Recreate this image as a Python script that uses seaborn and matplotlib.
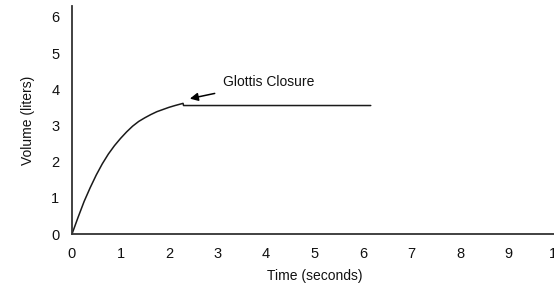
import matplotlib
matplotlib.use("Agg")
import matplotlib.pyplot as plt
import seaborn as sns
import pandas as pd

# volume-time curve
time_s = [0, 0.125, 0.25, 0.375, 0.5, 0.625, 0.75, 0.875, 1.0, 1.125, 1.25,
          1.375, 1.5, 1.625, 1.75, 1.875, 2.0, 2.125, 2.29, 2.3, 6.16]
volume_l = [0, 0.46, 0.9, 1.28, 1.63, 1.94, 2.21, 2.44, 2.64, 2.82, 2.98,
            3.11, 3.21, 3.3, 3.38, 3.44, 3.5, 3.55, 3.61, 3.55, 3.55]

df = pd.DataFrame({"Time": time_s, "Volume": volume_l})

sns.set_style("white")
plt.rcParams["font.family"] = ["Liberation Sans", "DejaVu Sans"]
plt.rcParams["font.size"] = 10

fig = plt.figure(figsize=(5.54, 2.9), dpi=100)
ax = fig.add_axes([72 / 554, 56 / 290, 485 / 554, 228 / 290])

sns.lineplot(data=df, x="Time", y="Volume", color="#1a1a1a", linewidth=1.1, ax=ax)

ax.set_xlim(0, 10)
ax.set_ylim(0, 6.3)
ax.set_xticks(range(0, 11))
ax.set_yticks(range(0, 7))
ax.tick_params(length=0, pad=9, labelsize=10.5, labelcolor="#111111")
ax.set_xlabel("Time (seconds)", fontsize=10, labelpad=6, color="#111111")
ax.set_ylabel("Volume (liters)", fontsize=10, labelpad=12, color="#111111")

for side in ["top", "right"]:
    ax.spines[side].set_visible(False)
for side in ["left", "bottom"]:
    ax.spines[side].set_color("#333333")
    ax.spines[side].set_linewidth(1.3)

ax.annotate("Glottis Closure", xy=(2.43, 3.74), xytext=(3.12, 4.2),
            fontsize=10, va="center", ha="left", color="#111111",
            arrowprops=dict(arrowstyle="-|>", color="black", lw=1.1,
                            shrinkA=4, shrinkB=0, mutation_scale=12))

fig.savefig("out.png", dpi=100)
